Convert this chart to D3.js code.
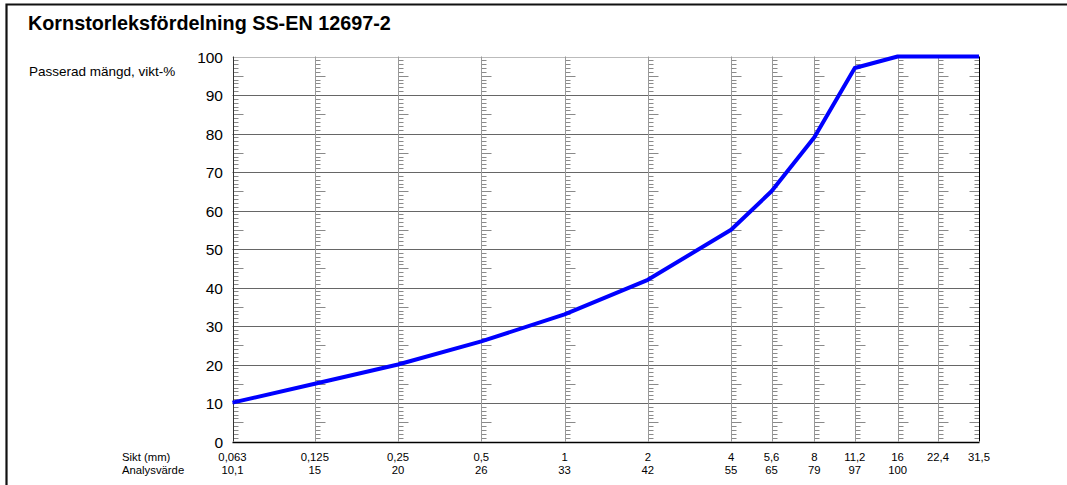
<!DOCTYPE html>
<html>
<head>
<meta charset="utf-8">
<script src="https://cdn.jsdelivr.net/npm/d3@7"></script>
<style>
  body { margin: 0; background: #fff; }
  svg { display: block; font-family: "Liberation Sans", Arial, sans-serif; }
</style>
</head>
<body>
<svg id="chart" width="1067" height="485"></svg>
<script>
// sieve sizes (mm) and passing percentages
const sieves = [0.063, 0.125, 0.25, 0.5, 1, 2, 4, 5.6, 8, 11.2, 16, 22.4, 31.5];
const sieveLabels = ["0,063", "0,125", "0,25", "0,5", "1", "2", "4", "5,6", "8", "11,2", "16", "22,4", "31,5"];
const passing = [10.1, 15, 20, 26, 33, 42, 55, 65, 79, 97, 100, 100, 100];
const analysisLabels = ["10,1", "15", "20", "26", "33", "42", "55", "65", "79", "97", "100", "", ""];
const yTicks = [0, 10, 20, 30, 40, 50, 60, 70, 80, 90, 100];

const svg = d3.select("#chart");

const x = d3.scaleLog().domain([0.063, 31.5]).range([232.5, 979]);
const y = d3.scaleLinear().domain([0, 100]).range([441.5, 56.5]);
const px = v => Math.round(v) + 0.5;

// frame
svg.append("path")
    .attr("d", "M6.5,485 L6.5,4.5 L1067,4.5")
    .attr("fill", "none")
    .attr("stroke", "#111")
    .attr("stroke-width", 2.2);

svg.append("text")
    .attr("x", 28).attr("y", 30)
    .attr("font-size", 19.8).attr("font-weight", "bold")
    .text("Kornstorleksfördelning SS-EN 12697-2");

svg.append("text")
    .attr("x", 29).attr("y", 76)
    .attr("font-size", 13.5)
    .text("Passerad mängd, vikt-%");

// horizontal grid
svg.append("g").selectAll("line")
    .data(yTicks.filter(d => d > 0 && d < 100))
    .join("line")
    .attr("x1", x(0.063)).attr("x2", x(31.5))
    .attr("y1", d => px(y(d))).attr("y2", d => px(y(d)))
    .attr("stroke", "#666").attr("stroke-width", 1);

svg.append("line")
    .attr("x1", x(0.063)).attr("x2", x(31.5))
    .attr("y1", px(y(100))).attr("y2", px(y(100)))
    .attr("stroke", "#bbb");

// minor ticks on each sieve line
const minor = d3.range(1, 100).filter(d => d % 10 !== 0);
const tickG = svg.append("g");
sieves.forEach((s, i) => {
    const xs = px(x(s));
    const dir = i === sieves.length - 1 ? -1 : 1;
    tickG.append("g").selectAll("line")
        .data(minor)
        .join("line")
        .attr("x1", xs)
        .attr("x2", d => xs + dir * (d % 5 === 0 ? 10 : 5))
        .attr("y1", d => px(y(d))).attr("y2", d => px(y(d)))
        .attr("stroke", "#8a8a8a").attr("stroke-width", 1);
});

// vertical grid
svg.append("g").selectAll("line")
    .data(sieves)
    .join("line")
    .attr("x1", d => px(x(d))).attr("x2", d => px(x(d)))
    .attr("y1", y(100)).attr("y2", y(0))
    .attr("stroke", (d, i) => i === 0 ? "#333" : (i === sieves.length - 1 ? "#000" : "#999"))
    .attr("stroke-width", 1);

// bottom axis
svg.append("line")
    .attr("x1", x(0.063)).attr("x2", x(31.5) + 0.5)
    .attr("y1", px(y(0))).attr("y2", px(y(0)))
    .attr("stroke", "#000").attr("stroke-width", 1.5);

// y tick labels
svg.append("g").selectAll("text")
    .data(yTicks)
    .join("text")
    .attr("x", 223)
    .attr("y", d => y(d) + 6)
    .attr("text-anchor", "end")
    .attr("font-size", 15.5)
    .text(d => d);

// x labels
svg.append("text").attr("x", 122).attr("y", 461).attr("font-size", 11.3).text("Sikt (mm)");
svg.append("text").attr("x", 122).attr("y", 474).attr("font-size", 11.3).text("Analysvärde");

svg.append("g").selectAll("text")
    .data(sieves)
    .join("text")
    .attr("x", d => x(d))
    .attr("y", 461)
    .attr("text-anchor", "middle")
    .attr("font-size", 11.3)
    .text((d, i) => sieveLabels[i]);

svg.append("g").selectAll("text")
    .data(sieves)
    .join("text")
    .attr("x", d => x(d))
    .attr("y", 474)
    .attr("text-anchor", "middle")
    .attr("font-size", 11.3)
    .text((d, i) => analysisLabels[i]);

// curve
const line = d3.line()
    .x((d, i) => x(sieves[i]))
    .y(d => y(d));

svg.append("path")
    .datum(passing)
    .attr("d", line)
    .attr("fill", "none")
    .attr("stroke", "#0000ff")
    .attr("stroke-width", 4)
    .attr("stroke-linejoin", "round");
</script>
</body>
</html>
